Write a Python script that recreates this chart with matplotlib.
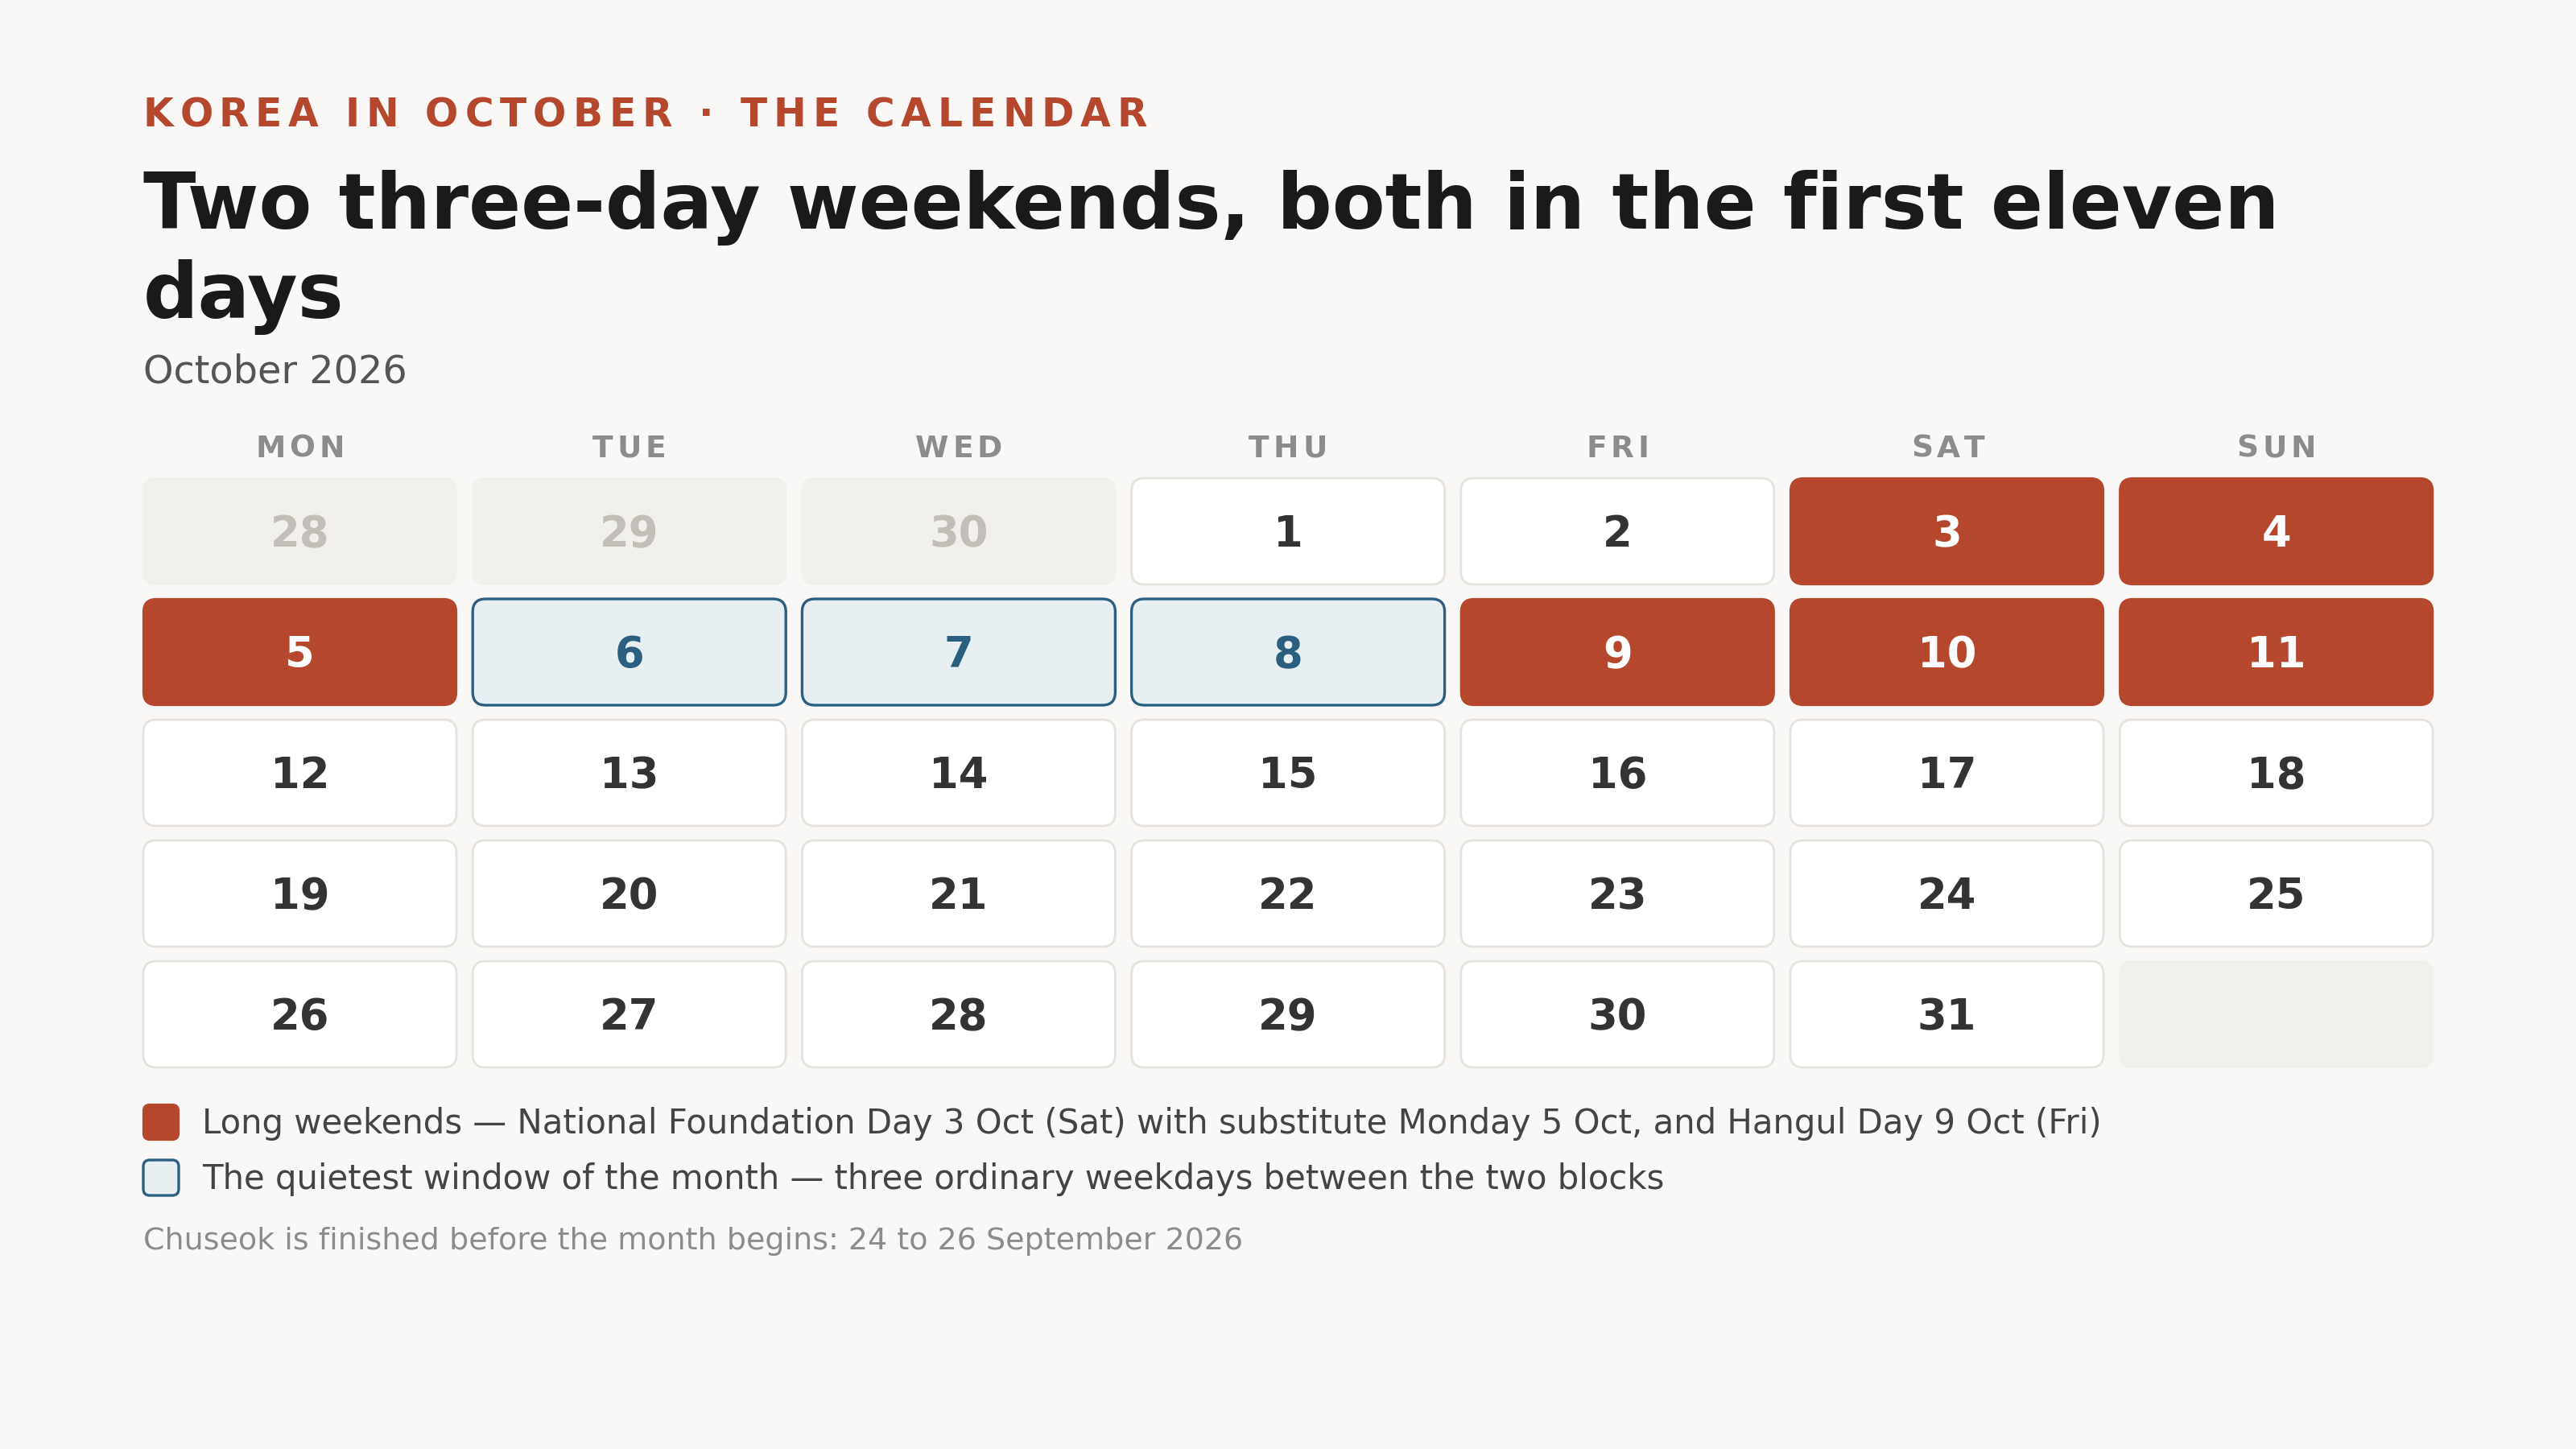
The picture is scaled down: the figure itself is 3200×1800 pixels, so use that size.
import matplotlib
matplotlib.use('Agg')
from matplotlib import pyplot as plt
from matplotlib.patches import FancyBboxPatch

W, H, DPI = 3200, 1800, 200

EYEBROW = 'KOREA IN OCTOBER · THE CALENDAR'
TITLE_LINES = ['Two three-day weekends, both in the first eleven', 'days']
SUBTITLE = 'October 2026'
WEEKDAYS = ['MON', 'TUE', 'WED', 'THU', 'FRI', 'SAT', 'SUN']
PREV_MONTH_DAYS = [28, 29, 30]          # trailing September days
MONTH_DAYS = list(range(1, 32))         # October
LONG_WEEKEND = [3, 4, 5, 9, 10, 11]
QUIET = [6, 7, 8]
LEGEND_LABELS = [
    'Long weekends \u2014 National Foundation Day 3 Oct (Sat) with substitute Monday 5 Oct, '
    'and Hangul Day 9 Oct (Fri)',
    'The quietest window of the month \u2014 three ordinary weekdays between the two blocks',
]
FOOTNOTE = 'Chuseok is finished before the month begins: 24 to 26 September 2026'

BG = '#f9f8f6'
RED = '#b5472d'
BLUE = '#2b5f80'
BLUE_FILL = '#e8eff3'
MUTED_FILL = '#f2f0ec'
MUTED_TEXT = '#c2beb8'
CELL_EDGE = '#e6e3de'
INK = '#333333'

fig = plt.figure(figsize=(W / DPI, H / DPI), dpi=DPI, facecolor=BG)
ax = fig.add_axes([0, 0, 1, 1])
ax.set_xlim(0, W)
ax.set_ylim(H, 0)
ax.axis('off')
renderer = fig.canvas.get_renderer()


def text_width(s, **kw):
    t = ax.text(0, 0, s, **kw)
    w = t.get_window_extent(renderer).width
    t.remove()
    return w


def tracked(x, y, s, tracking, ha='left', **kw):
    # matplotlib has no letter-spacing, so place characters one by one
    bar = text_width('|', **kw)
    offsets = [text_width(s[:k] + '|', **kw) - bar if k else 0 for k in range(len(s))]
    total = text_width(s + '|', **kw) - bar + tracking * (len(s) - 1)
    x0 = x - total / 2 if ha == 'center' else x
    for k, ch in enumerate(s):
        if ch != ' ':
            ax.text(x0 + offsets[k] + tracking * k, y, ch, va='baseline', **kw)


LEFT = 178
tracked(LEFT, 157, EYEBROW, 8, fontsize=17.5, fontweight='bold', color=RED)
ax.text(LEFT, 284, TITLE_LINES[0], fontsize=34.5, fontweight='bold', color='#1a1a1a', va='baseline')
ax.text(LEFT, 395, TITLE_LINES[1], fontsize=34.5, fontweight='bold', color='#1a1a1a', va='baseline')
ax.text(LEFT, 476, SUBTITLE, fontsize=17.2, color='#555555', va='baseline')

# grid
cell_w, cell_h = 389, 132
pitch_x, pitch_y = 409.2, 150
top = 594
for c, name in enumerate(WEEKDAYS):
    tracked(LEFT + c * pitch_x + cell_w / 2, 568, name, 5, ha='center',
            fontsize=13.5, fontweight='bold', color='#8c8c8c')

slots = [('prev', d) for d in PREV_MONTH_DAYS] + [('cur', d) for d in MONTH_DAYS]
slots += [('empty', None)] * (35 - len(slots))
for i, (kind, day) in enumerate(slots):
    r, c = divmod(i, 7)
    x = LEFT + c * pitch_x
    y = top + r * pitch_y
    if kind in ('prev', 'empty'):
        fc, ec, lw, tc = MUTED_FILL, MUTED_FILL, 0.8, MUTED_TEXT
    elif day in LONG_WEEKEND:
        fc, ec, lw, tc = RED, RED, 0.8, 'white'
    elif day in QUIET:
        fc, ec, lw, tc = BLUE_FILL, BLUE, 1.2, BLUE
    else:
        fc, ec, lw, tc = 'white', CELL_EDGE, 1.0, INK
    ax.add_patch(FancyBboxPatch((x, y), cell_w, cell_h,
                                boxstyle='round,pad=0,rounding_size=16',
                                fc=fc, ec=ec, lw=lw))
    if day is not None:
        ax.text(x + cell_w / 2, y + cell_h / 2 + 19, str(day), ha='center', va='baseline',
                fontsize=19, fontweight='bold', color=tc)

# legend
legend_styles = [(RED, RED, 0.8), (BLUE_FILL, BLUE, 1.2)]
for k, (label, (fc, ec, lw)) in enumerate(zip(LEGEND_LABELS, legend_styles)):
    y = 1372 + k * 69
    ax.add_patch(FancyBboxPatch((LEFT, y), 44, 44, boxstyle='round,pad=0,rounding_size=8',
                                fc=fc, ec=ec, lw=lw))
    ax.text(251, y + 36, label, fontsize=15.1, color='#444444', va='baseline')

ax.text(LEFT, 1552, FOOTNOTE, fontsize=13.7, color='#8c8c8c', va='baseline')

fig.savefig('out.png', dpi=DPI, facecolor=BG)
